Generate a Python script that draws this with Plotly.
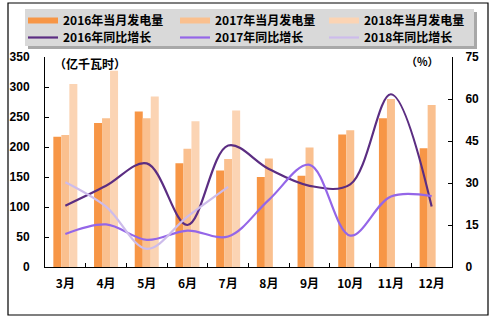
import plotly.graph_objects as go
from plotly.subplots import make_subplots

months = ["3月", "4月", "5月", "6月", "7月", "8月", "9月", "10月", "11月", "12月"]
gen2016 = [217, 240, 259, 173, 161, 150, 152, 221, 248, 198]
gen2017 = [220, 248, 248, 197, 180, 181, 199, 228, 280, 270]
gen2018 = [305, 327, 284, 243, 261, None, None, None, None, None]
yoy2016 = [21.9, 29.0, 37.0, 15.0, 43.4, 35.0, 29.0, 29.5, 61.7, 21.6]
yoy2017 = [11.8, 15.2, 9.7, 13.0, 10.9, 24.0, 36.5, 11.2, 25.2, 25.3]
yoy2018 = [30.3, 21.6, 6.5, 18.0, 28.6, None, None, None, None, None]

bar_names = ["2016年当月发电量", "2017年当月发电量", "2018年当月发电量"]
line_names = ["2016年同比增长", "2017年同比增长", "2018年同比增长"]
bar_colors = ["#F79646", "#FAC08F", "#FBD4B4"]
line_colors = ["#5B2D82", "#9466E8", "#CDBCEB"]

CJK = "Noto Sans CJK SC"
W, H = 498, 322
L, R, T, B = 45, 452, 57, 267

fig = make_subplots(specs=[[{"secondary_y": True}]])

for name, vals, col in zip(bar_names, [gen2016, gen2017, gen2018], bar_colors):
    fig.add_trace(go.Bar(x=months, y=vals, name=name, marker=dict(color=col, line=dict(width=0)),
                         showlegend=False), secondary_y=False)

for name, vals, col in zip(line_names, [yoy2016, yoy2017, yoy2018], line_colors):
    fig.add_trace(go.Scatter(x=months, y=vals, name=name, mode="lines",
                             line=dict(color=col, width=2.2, shape="spline", smoothing=1.0),
                             showlegend=False), secondary_y=True)

# legend entries (bar entries drawn as thick lines like the original), one small legend per cell
bar_legends = ["legend", "legend2", "legend3"]
line_legends = ["legend4", "legend5", "legend6"]
for name, col, lg in zip(bar_names, bar_colors, bar_legends):
    fig.add_trace(go.Scatter(x=[None], y=[None], name=name, mode="lines", legend=lg,
                             line=dict(color=col, width=6)), secondary_y=False)
for name, col, lg in zip(line_names, line_colors, line_legends):
    fig.add_trace(go.Scatter(x=[None], y=[None], name=name, mode="lines", legend=lg,
                             line=dict(color=col, width=2.2)), secondary_y=True)

def px(xp):
    return (xp - L) / (R - L)

def py(yp):
    return (B - yp) / (B - T)

def legend_at(xpix, ypix):
    return dict(orientation="v", x=px(xpix), y=py(ypix), xanchor="left", yanchor="top",
                bgcolor="rgba(0,0,0,0)", itemwidth=30, tracegroupgap=0,
                font=dict(family=CJK, size=12, color="black", weight="bold"))

cols_x = [23, 175, 324]
legends = {}
for i, lg in enumerate(bar_legends):
    legends[lg] = legend_at(cols_x[i], 6)
for i, lg in enumerate(line_legends):
    legends[lg] = legend_at(cols_x[i], 23)

fig.update_layout(
    width=W, height=H,
    margin=dict(l=L, r=W - R, t=T, b=H - B, autoexpand=False),
    paper_bgcolor="white", plot_bgcolor="white",
    barmode="group", bargap=0.41, bargroupgap=0,
    font=dict(family=CJK, size=12, color="black"),
    showlegend=True,
    shapes=[
        dict(type="rect", xref="paper", yref="paper", x0=px(8), x1=px(488), y0=py(315), y1=py(3),
             line=dict(color="black", width=1.2), fillcolor="rgba(0,0,0,0)", layer="below"),
        dict(type="rect", xref="paper", yref="paper", x0=px(28), x1=px(477), y0=py(49), y1=py(12),
             line=dict(width=0), fillcolor="#A8A8A8", layer="below"),
        dict(type="rect", xref="paper", yref="paper", x0=px(25), x1=px(474), y0=py(46), y1=py(9),
             line=dict(width=0), fillcolor="#D9D9D9", layer="below"),
    ],
    annotations=[
        dict(text="（亿千瓦时）", xref="paper", yref="paper", x=px(52), y=py(63), xanchor="left",
             yanchor="middle", showarrow=False, font=dict(family=CJK, size=12, weight="bold")),
        dict(text="（%）", xref="paper", yref="paper", x=px(422), y=py(61), xanchor="center",
             yanchor="middle", showarrow=False, font=dict(family=CJK, size=11, weight="bold")),
    ],
    **legends,
)

fig.update_xaxes(domain=[0, 1], showline=True, linecolor="black", linewidth=1, showgrid=False,
                 ticks="inside", ticklen=4, tickcolor="black", tickson="boundaries",
                 tickfont=dict(family=CJK, size=12, weight="bold"), ticklabelstandoff=6)
fig.update_yaxes(range=[0, 350], dtick=50, showline=True, linecolor="black", linewidth=1,
                 showgrid=False, zeroline=False, ticks="inside", ticklen=4, tickcolor="black",
                 tickfont=dict(family="Liberation Sans", size=12, weight="bold"),
                 ticklabelstandoff=12, secondary_y=False)
fig.update_yaxes(range=[0, 75], dtick=15, showline=True, linecolor="black", linewidth=1,
                 showgrid=False, zeroline=False, ticks="inside", ticklen=4, tickcolor="black",
                 tickfont=dict(family="Liberation Sans", size=12, weight="bold"),
                 ticklabelstandoff=10, secondary_y=True)

fig.write_html("out.html")
